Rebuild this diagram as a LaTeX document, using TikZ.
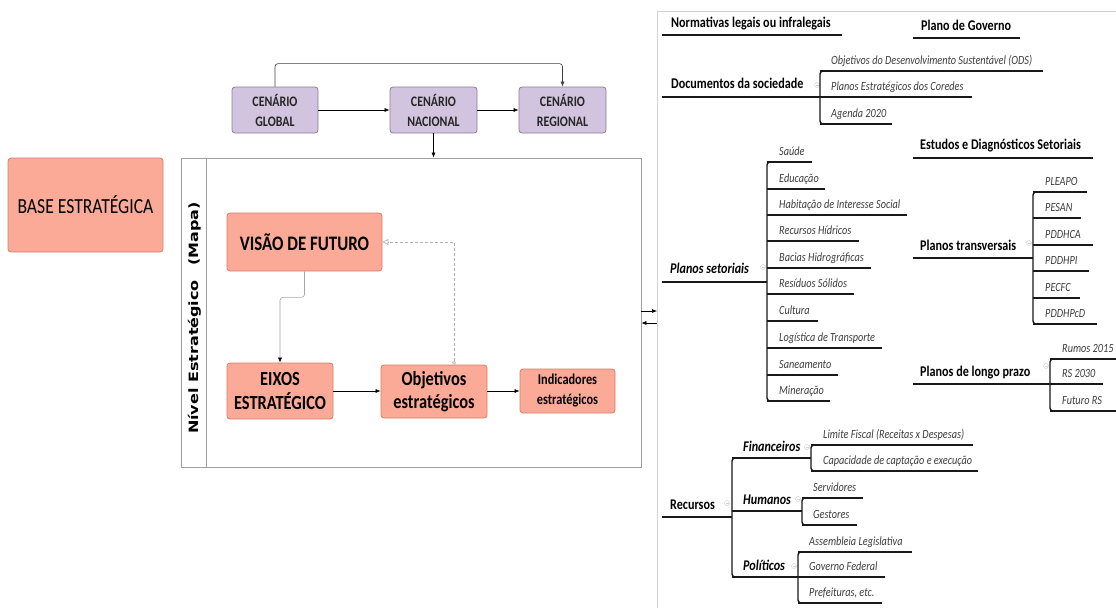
\documentclass[tikz,border=0pt]{standalone}
\usepackage{fontspec}
\setmainfont{Carlito}[FakeStretch=0.82]
\newfontfamily\dejavu{DejaVu Sans}
\usetikzlibrary{arrows.meta,calc}
\definecolor{salmon}{RGB}{250,170,150}
\definecolor{salmonline}{RGB}{215,125,105}
\definecolor{lav}{RGB}{210,195,222}
\definecolor{lavline}{RGB}{140,125,150}
\definecolor{leafgray}{RGB}{60,60,60}
\begin{document}
\begin{tikzpicture}[x=1pt,y=-1pt,
  sbox/.style={draw=salmonline, fill=salmon, rounded corners=3pt, line width=0.8pt, align=center, inner sep=2pt, text=black},
  cbox/.style={draw=lavline, fill=lav, rounded corners=3pt, line width=0.8pt, align=center,
               font=\bfseries\fontsize{14.5}{20}\selectfont, text=black!85},
  arr/.style={-{Latex[length=5pt,width=4pt]}, line width=0.6pt},
  head/.style={anchor=base west, inner sep=0pt, font=\bfseries\fontsize{14.8}{16}\selectfont},
  headi/.style={anchor=base west, inner sep=0pt, font=\bfseries\itshape\fontsize{14.8}{16}\selectfont},
  leaf/.style={anchor=base west, inner sep=0pt, text=leafgray, font=\itshape\fontsize{12.5}{14}\selectfont},
  uline/.style={line width=1.4pt, black!90},
  bracket/.style={uline, rounded corners=3pt},
  knob/.style={circle, draw=gray!35, line width=0.5pt, minimum size=5pt, inner sep=0pt,
               path picture={\draw[gray!35] ([xshift=-1.5pt]path picture bounding box.center) -- ([xshift=1.5pt]path picture bounding box.center);}},
]
\useasboundingbox (0,0) rectangle (1116,608);

% ---------- left part: scenarios and strategic map ----------
\node[sbox, minimum width=155pt, minimum height=94pt, font=\fontsize{21.5}{24}\selectfont] (base) at (85.5,205) {BASE ESTRATÉGICA};

\node[cbox, minimum width=86pt, minimum height=46pt] (global) at (275,110) {CENÁRIO\\GLOBAL};
\node[cbox, minimum width=87pt, minimum height=46pt] (nacional) at (433.5,110) {CENÁRIO\\NACIONAL};
\node[cbox, minimum width=87pt, minimum height=46pt] (regional) at (562.5,110) {CENÁRIO\\REGIONAL};

\draw[arr, black!75, rounded corners=3pt] (global.north) -- ++(0,-23) -| (regional.north);
\draw[arr] (global.east) -- (nacional.west);
\draw[arr] (nacional.east) -- (regional.west);

\node[draw=gray!75, line width=0.7pt, minimum width=460pt, minimum height=309pt, inner sep=0pt] (frame) at (411,312.5) {};
\draw[gray!75, line width=0.7pt] ($(frame.north west)+(26,0)$) -- ($(frame.south west)+(26,0)$);
\draw[arr] (nacional.south) -- (nacional.south |- frame.north);

\node[rotate=90, inner sep=0pt, font=\dejavu\bfseries\fontsize{16}{18}\selectfont] (nivel) at (194.5,318)
  {\scalebox{1}[0.8]{Nível Estratégico\hspace{0.9em}(Mapa)}};

\node[sbox, minimum width=155pt, minimum height=58pt, font=\bfseries\fontsize{20.6}{24}\selectfont] (visao) at (304.5,242) {VISÃO DE FUTURO};
\node[sbox, minimum width=106pt, minimum height=56pt, font=\bfseries\fontsize{20}{24}\selectfont] (eixos) at (280,391) {EIXOS\\ESTRATÉGICO};
\node[sbox, minimum width=106pt, minimum height=53pt, font=\bfseries\fontsize{20}{23}\selectfont] (obj) at (434,391.5) {Objetivos\\estratégicos};
\node[sbox, minimum width=95pt, minimum height=44pt, font=\bfseries\fontsize{15}{20}\selectfont] (ind) at (567.5,391) {Indicadores\\estratégicos};

\draw[-{Latex[length=5pt,width=4pt,black]}, line width=0.6pt, gray!70, rounded corners=3pt] (visao.south) -- ++(0,26) -| (eixos.north);
\draw[arr] (eixos.east) -- (eixos.east -| obj.west);
\draw[arr] (obj.east |- eixos.east) -- (obj.east |- eixos.east -| ind.west);
\draw[gray!60, line width=0.7pt, dash pattern=on 3pt off 2pt,
      {Circle[length=3.5pt,fill=white]}-{Triangle[length=6pt,width=6pt,fill=white]}]
      ([xshift=20pt]obj.north) |- (visao.east);

% ---------- right panel ----------
\coordinate (pa) at (657,311);
\coordinate (pb) at (657,323);
\draw[gray!35, line width=1pt] (657,608) -- (657,11) -- (1116,11);
\draw[arr] (frame.east |- pa) -- (pa);
\draw[arr] (pb) -- (frame.east |- pb);

% single headings
\node[head] (norm) at (671,27) {Normativas legais ou infralegais};
\draw[uline] (662,35) -- (842,35);
\node[head] (gov) at (921,30) {Plano de Governo};
\draw[uline] (913,38) -- (1020,38);
\node[head] (estudos) at (920,149) {Estudos e Diagnósticos Setoriais};
\draw[uline] (913,158) -- (1093,158);

% documents of society
\node[head] (doc) at (671,88) {Documentos da sociedade};
\node[knob] (kdoc) at (817,85) {};
\draw[uline] (662,97) -- (820,97);
\draw[bracket] (826,71) -- (820,71) -- (820,124) -- (826,124);
\foreach \t/\y/\e [count=\i] in {Objetivos do Desenvolvimento Sustentável (ODS)/71/1043,
    Planos Estratégicos dos Coredes/97/972, Agenda 2020/124/892}{
  \node[leaf] (doc\i) at (831,\y-7) {\t};
  \draw[uline] (820,\y) -- (\e,\y);
}

% sector plans
\node[headi] (setor) at (670,273) {Planos setoriais};
\node[knob] (kset) at (763,267) {};
\draw[uline] (662,282) -- (767,282);
\draw[bracket] (773,162) -- (767,162) -- (767,401) -- (773,401);
\foreach \t/\y/\e [count=\i] in {Saúde/162/812, Educação/189/825, Habitação de Interesse Social/215/907,
    Recursos Hídricos/241/859, Bacias Hidrográficas/268/871, Resíduos Sólidos/294/854, Cultura/321/818,
    Logística de Transporte/348/882, Saneamento/375/838, Mineração/401/830}{
  \node[leaf] (set\i) at (779,\y-7) {\t};
  \draw[uline] (767,\y) -- (\e,\y);
}

% cross-cutting plans
\node[head] (transv) at (920,250) {Planos transversais};
\node[knob] (ktr) at (1029,243) {};
\draw[uline] (913,258) -- (1033,258);
\draw[bracket] (1039,192) -- (1033,192) -- (1033,324) -- (1039,324);
\foreach \t/\y/\e [count=\i] in {PLEAPO/192/1087, PESAN/218/1081, PDDHCA/245/1093,
    PDDHPI/271/1089, PECFC/298/1080, PDDHPcD/324/1097}{
  \node[leaf] (tr\i) at (1045,\y-7) {\t};
  \draw[uline] (1033,\y) -- (\e,\y);
}

% long-term plans
\node[head] (longo) at (920,376) {Planos de longo prazo};
\node[knob] (klp) at (1046,366) {};
\draw[uline] (913,384) -- (1050,384);
\draw[bracket] (1056,359) -- (1050,359) -- (1050,411) -- (1056,411);
\foreach \t/\y/\e [count=\i] in {Rumos 2015/359/1116, RS 2030/384/1103, Futuro RS/411/1116}{
  \node[leaf] (lp\i) at (1062,\y-7) {\t};
  \draw[uline] (1050,\y) -- (\e,\y);
}

% resources
\node[head] (rec) at (670,509) {Recursos};
\node[knob] (krec) at (727,503) {};
\draw[uline] (662,517) -- (732,517);
\draw[bracket] (738,458) -- (732,458) -- (732,577) -- (738,577);

\node[headi] (fin) at (743,451) {Financeiros};
\node[knob] (kfin) at (807,447) {};
\draw[uline] (732,458) -- (811,458);
\draw[bracket] (817,445) -- (811,445) -- (811,471) -- (817,471);
\foreach \t/\y/\e [count=\i] in {Limite Fiscal (Receitas x Despesas)/445/973, Capacidade de captação e execução/471/978}{
  \node[leaf] (fin\i) at (823,\y-7) {\t};
  \draw[uline] (811,\y) -- (\e,\y);
}

\node[headi] (hum) at (743,504) {Humanos};
\node[knob] (khum) at (798,499) {};
\draw[uline] (732,511) -- (802,511);
\draw[bracket] (808,498) -- (802,498) -- (802,525) -- (808,525);
\foreach \t/\y/\e [count=\i] in {Servidores/498/863, Gestores/525/857}{
  \node[leaf] (hum\i) at (813,\y-7) {\t};
  \draw[uline] (802,\y) -- (\e,\y);
}

\node[headi] (pol) at (743,570) {Políticos};
\node[knob] (kpol) at (794,566) {};
\draw[uline] (732,577) -- (798,577);
\draw[bracket] (804,552) -- (798,552) -- (798,603) -- (804,603);
\foreach \t/\y/\e [count=\i] in {Assembleia Legislativa/552/912, Governo Federal/577/885, {Prefeituras, etc.}/603/882}{
  \node[leaf] (pol\i) at (809,\y-7) {\t};
  \draw[uline] (798,\y) -- (\e,\y);
}
\end{tikzpicture}
\end{document}
